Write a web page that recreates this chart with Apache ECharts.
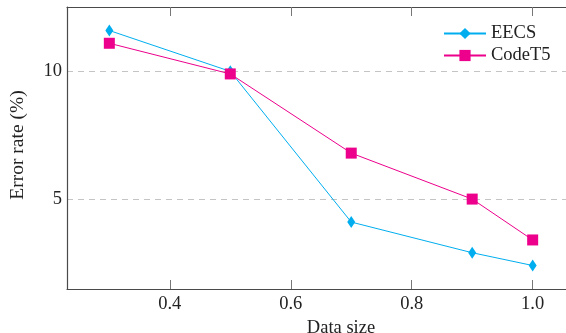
<!DOCTYPE html>
<html><head><meta charset="utf-8">
<script src="https://cdn.jsdelivr.net/npm/echarts@6/dist/echarts.min.js"></script>
<style>html,body{margin:0;padding:0;background:#fff}#c{width:566px;height:333px}</style>
</head><body><div id="c"></div>
<script>
const dataSizes = [0.3, 0.5, 0.7, 0.9, 1.0];
const eecs = [11.6, 10.0, 4.1, 2.9, 2.4];
const codet5 = [11.1, 9.9, 6.8, 5.0, 3.4];
const xTicks = [0.4, 0.6, 0.8, 1.0];
const yTicks = [5, 10];
const seriesNames = ['EECS', 'CodeT5'];

const FONT = '"Liberation Serif", "DejaVu Serif", serif';
const chart = echarts.init(document.getElementById('c'), null, {renderer: 'canvas'});
const pairs = arr => dataSizes.map((x, i) => [x, arr[i]]);
const axisCol = '#4a4a4a';
const txt = '#222';
chart.setOption({
  animation: false,
  backgroundColor: '#fff',
  grid: {left: 67, top: 7, width: 508, height: 282, containLabel: false, outerBoundsMode: 'none'},
  legend: {
    orient: 'vertical', left: 438, top: 19, itemGap: 3, itemWidth: 42, itemHeight: 14,
    textStyle: {fontFamily: FONT, fontSize: 18.5, color: txt},
    data: seriesNames
  },
  xAxis: [{
    type: 'value', min: 0.23, max: 1.07, position: 'bottom',
    name: 'Data size', nameLocation: 'middle', nameGap: 26,
    nameTextStyle: {fontFamily: FONT, fontSize: 18.5, color: txt, padding: [0, 0, 0, 40]},
    axisLine: {show: true, lineStyle: {color: axisCol, width: 1.2}},
    axisTick: {show: true, inside: true, length: 9, lineStyle: {color: '#777'}, customValues: xTicks},
    axisLabel: {fontFamily: FONT, fontSize: 18.5, color: txt, margin: 6, customValues: xTicks,
      formatter: v => v.toFixed(1)},
    splitLine: {show: false}
  }, {
    type: 'value', min: 0.23, max: 1.07, position: 'top',
    axisLine: {show: true, lineStyle: {color: axisCol, width: 1.2}},
    axisTick: {show: true, inside: true, length: 9, lineStyle: {color: '#777'}, customValues: xTicks},
    axisLabel: {show: false},
    splitLine: {show: false}
  }],
  yAxis: {
    type: 'value', min: 1.48, max: 12.52,
    name: 'Error rate (%)', nameLocation: 'middle', nameGap: 39,
    nameTextStyle: {fontFamily: FONT, fontSize: 19.5, color: txt, padding: [0, 0, 0, 6]},
    axisLine: {show: true, lineStyle: {color: axisCol, width: 1.2}},
    axisTick: {show: false, customValues: yTicks},
    axisLabel: {fontFamily: FONT, fontSize: 18.5, color: txt, margin: 5, customValues: yTicks},
    splitLine: {show: true, lineStyle: {color: '#c4c4c4', type: [6, 5], width: 1}}
  },
  series: [{
    name: seriesNames[0], type: 'line', data: pairs(eecs),
    symbol: 'diamond', symbolSize: [8, 12],
    lineStyle: {color: '#00AEEF', width: 1},
    itemStyle: {color: '#00AEEF'}
  }, {
    name: seriesNames[1], type: 'line', data: pairs(codet5),
    symbol: 'rect', symbolSize: 11,
    lineStyle: {color: '#EC008C', width: 1},
    itemStyle: {color: '#EC008C'}
  }]
});
</script></body></html>
